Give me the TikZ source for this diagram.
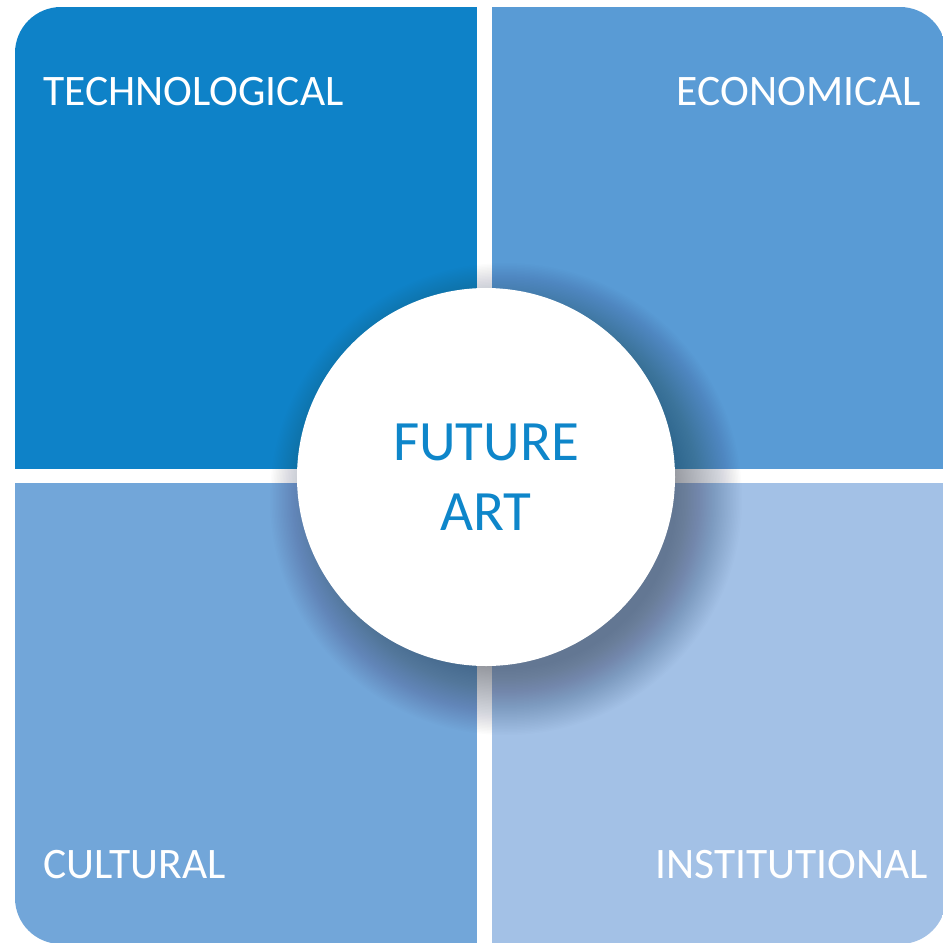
\documentclass[tikz,border=0pt]{standalone}
\usepackage{fontspec}
\setmainfont{Carlito}
\definecolor{qtl}{RGB}{14,130,200}
\definecolor{qtr}{RGB}{89,155,213}
\definecolor{qbl}{RGB}{114,166,217}
\definecolor{qbr}{RGB}{163,193,230}
\definecolor{arttext}{RGB}{14,134,202}
\definecolor{shadowcol}{RGB}{40,50,70}
\tikzset{
  quadlabel/.style={text=white, font=\fontsize{43.5}{52}\selectfont, inner sep=0pt},
  centerdisc/.style={circle, fill=white, minimum size=378pt, inner sep=0pt,
    text=arttext, align=center, font=\fontsize{57}{70}\selectfont},
  shadowlayer/.style={fill=shadowcol, fill opacity=0.013}
}
\begin{document}
\begin{tikzpicture}[x=1pt,y=-1pt]
\useasboundingbox (0,0) rectangle (943,943);
\fill[white] (0,0) rectangle (943,943);
\begin{scope}
  \clip[rounded corners=46pt] (15,7) rectangle (946,944);
  \fill[qtl] (0,0) rectangle (477,469);
  \fill[qtr] (492,0) rectangle (950,469);
  \fill[qbl] (0,483) rectangle (477,950);
  \fill[qbr] (492,483) rectangle (950,950);
  \foreach \r in {0,1.5,...,66} {
    \fill[shadowlayer] (506,499) circle[radius=236-\r];
  }
\end{scope}
\node[quadlabel, anchor=base west] (tech) at (43,105) {TECHNOLOGICAL};
\node[quadlabel, anchor=base east] (econ) at (921,105) {ECONOMICAL};
\node[quadlabel, anchor=base west] (cult) at (43,878) {CULTURAL};
\node[quadlabel, anchor=base east] (inst) at (928,878) {INSTITUTIONAL};
\node[centerdisc] (art) at (486,477) {FUTURE\\ART};
\end{tikzpicture}
\end{document}
